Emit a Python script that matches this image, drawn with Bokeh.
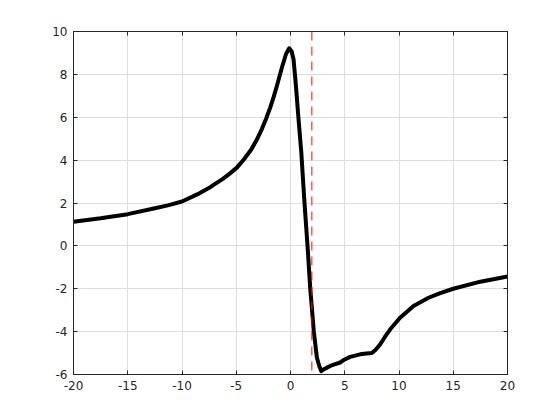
from bokeh.plotting import figure
from bokeh.models import Range1d, FixedTicker, LinearAxis, Span
from bokeh.embed import file_html
from bokeh.resources import INLINE

# Curve values
x_vals = [-20, -17.5, -15, -12.6, -11.3, -10, -8.6, -7.4, -6.2, -5.6, -4.94, -4.3, -3.6,
          -3.1, -2.64, -2.25, -1.87, -1.55,
          -1.25, -0.79, -0.42, -0.12, 0.1, 0.28, 0.5, 0.74, 0.99, 1.29, 1.57, 1.82,
          2.15, 2.43, 2.65, 2.83, 3.0, 3.35, 3.66, 4.12, 4.58, 4.95, 5.5, 6.42, 7.0,
          7.5, 7.85, 8.27, 8.7, 9.19, 10.1, 11.34, 12.72, 13.8, 15, 17.5, 20]
y_vals = [1.13, 1.29, 1.48, 1.74, 1.89, 2.07, 2.4, 2.74, 3.14, 3.37, 3.65, 4.03, 4.51,
          4.96, 5.45, 5.93, 6.45, 6.95,
          7.47, 8.32, 8.94, 9.22, 9.08, 8.71, 7.47, 5.91, 4.4, 2.0, 0.0, -2.0,
          -4.0, -5.21, -5.6, -5.84, -5.78, -5.68, -5.6, -5.52, -5.44, -5.31, -5.18, -5.06, -5.02,
          -5.0, -4.85, -4.59, -4.25, -3.89, -3.35, -2.8, -2.42, -2.2, -2.0, -1.67, -1.43]
vline_x = 1.97

x_ticks = [-20, -15, -10, -5, 0, 5, 10, 15, 20]
x_tick_labels = ["-20", "-15", "-10", "-5", "0", "5", "10", "15", "20"]
y_ticks = [-6, -4, -2, 0, 2, 4, 6, 8, 10]
y_tick_labels = ["-6", "-4", "-2", "0", "2", "4", "6", "8", "10"]

FONT = "DejaVu Sans"
TXT = "#262626"

p = figure(width=552, height=412, output_backend="svg", toolbar_location=None,
           x_range=Range1d(-20, 20), y_range=Range1d(-6, 10),
           min_border_left=73, min_border_right=45, min_border_top=31, min_border_bottom=38)
p.background_fill_color = "white"
p.border_fill_color = "white"
p.outline_line_color = TXT
p.outline_line_width = 1

for ax in (p.xaxis, p.yaxis):
    ax.major_label_text_font = FONT
    ax.major_label_text_font_size = "12px"
    ax.major_label_text_color = TXT
    ax.major_tick_in = 4
    ax.major_tick_out = 0
    ax.minor_tick_line_color = None
    ax.axis_line_color = TXT
    ax.major_tick_line_color = TXT
    ax.major_label_standoff = 6

p.xaxis.ticker = FixedTicker(ticks=x_ticks)
p.yaxis.ticker = FixedTicker(ticks=y_ticks)
p.xaxis.major_label_overrides = {t: s for t, s in zip(x_ticks, x_tick_labels)}
p.yaxis.major_label_overrides = {t: s for t, s in zip(y_ticks, y_tick_labels)}
p.xgrid.ticker = FixedTicker(ticks=x_ticks)
p.ygrid.ticker = FixedTicker(ticks=y_ticks)
p.grid.grid_line_color = "#dedede"
p.grid.grid_line_width = 1

top = LinearAxis(ticker=FixedTicker(ticks=x_ticks), major_tick_in=4, major_tick_out=0,
                 minor_tick_line_color=None,
                 major_label_overrides={t: "" for t in x_ticks},
                 axis_line_color=TXT, major_tick_line_color=TXT, major_label_standoff=0)
right = LinearAxis(ticker=FixedTicker(ticks=y_ticks), major_tick_in=4, major_tick_out=0,
                   minor_tick_line_color=None,
                   major_label_overrides={t: "" for t in y_ticks},
                   axis_line_color=TXT, major_tick_line_color=TXT, major_label_standoff=0)
p.add_layout(top, "above")
p.add_layout(right, "right")

p.line(x_vals, y_vals, line_color="black", line_width=4, line_join="round")

p.add_layout(Span(location=vline_x, dimension="height", line_color="#ff0000",
                  line_width=1, line_dash="9 6"))

open("out.html", "w").write(file_html(p, INLINE))
